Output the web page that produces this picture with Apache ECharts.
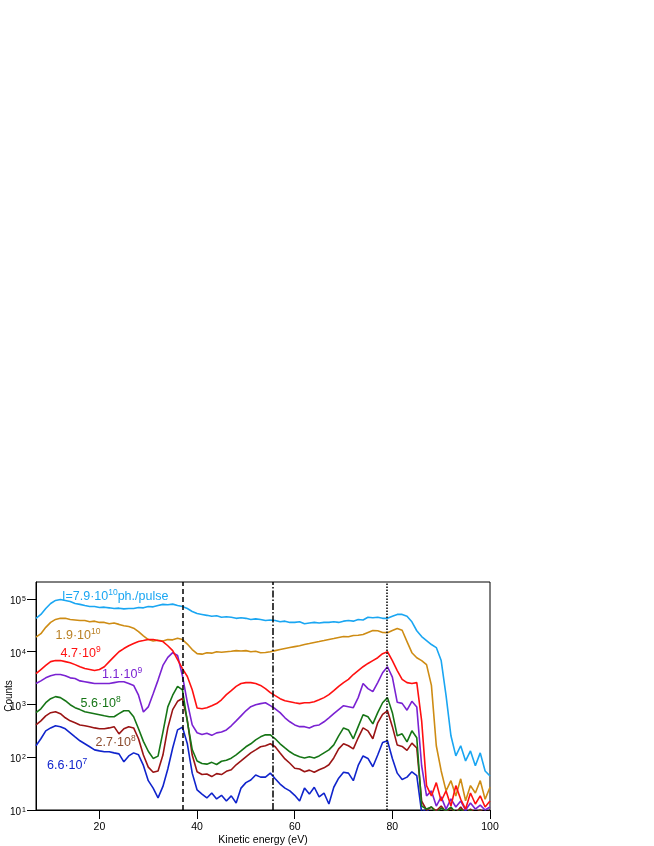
<!DOCTYPE html>
<html><head><meta charset="utf-8">
<script src="https://cdn.jsdelivr.net/npm/echarts@6/dist/echarts.min.js"></script>
<style>html,body{margin:0;padding:0;background:#fff}#c{width:654px;height:846px}</style>
</head><body><div id="c"></div>
<script>
// Kinetic energy (eV)
const energy = [7,8,9,10,11,12,13,14,15,16,17,18,19,20,21,22,23,24,25,26,27,28,29,30,31,32,33,34,35,36,37,38,39,40,41,42,43,44,45,46,47,48,49,50,51,52,53,54,55,56,57,58,59,60,61,62,63,64,65,66,67,68,69,70,71,72,73,74,75,76,77,78,79,80,81,82,83,84,85,86,87,88,89,90,91,92,93,94,95,96,97,98,99,100];

// Counts per intensity (ph./pulse)
const counts_7_9e10 = [43000,51000,66000,82000,94000,98000,94000,90000,82000,79000,
75000,72000,72000,69000,70000,68000,66000,67000,65000,66000,
66000,69000,68000,72000,71000,75000,79000,78000,80000,75000,
72000,66000,58000,53000,51000,49000,47000,48000,45000,46000,
45000,43000,44000,43000,41000,42000,41000,39000,40000,39000,
37000,38000,36000,36000,37000,34000,35000,36000,35000,36000,
36000,37000,36000,38000,39000,38000,41000,40000,45000,44000,
45000,43000,43000,47000,51000,51000,47000,37000,25000,19400,
16300,13700,12000,6800,1470,255,106,165,85,132,
69,121,55,44];

const counts_1_9e10 = [19000,22000,29000,36000,41000,43000,43000,41000,40000,39000,
39000,37000,38000,36000,36000,34000,35000,33000,31000,30000,
28000,24000,20000,17000,16000,16500,16000,17000,16800,18000,
17000,14000,11000,9200,9000,9600,9400,10000,9800,10000,
10200,10500,10300,10500,10000,10200,9600,9700,10000,10500,
11000,11500,12000,12500,13000,13700,14300,15000,15600,16300,
17100,17800,18600,19400,19200,20300,20500,21200,23200,25300,
25000,23200,23000,25300,27600,25500,15600,9600,7700,6800,
5700,2300,165,55,23,36,18.5,39,15,29,
21,36,16,27];

const counts_4_7e9 = [3850,4600,5500,6500,6800,6800,6500,6200,5700,5200,
4800,4600,4400,4600,5200,6500,8100,10000,11500,13000,
14300,15600,16300,17100,17100,16300,15600,13000,10500,7100,
4800,3400,1900,860,830,870,950,1040,1230,1540,
1830,2200,2500,2600,2600,2500,2300,2000,1680,1470,
1290,1180,1130,1080,1040,1080,1080,1130,1230,1350,
1540,1830,2200,2600,3000,3700,4400,5200,6000,6800,
7700,9200,10000,6800,4400,3000,2600,2500,2600,490,
29,18.5,33,14.8,23,11.9,29,16,10.4,21,
13,18.5,11.4,14.8];

const counts_1_1e9 = [2500,2800,3200,3500,3700,3700,3500,3200,3100,2800,
2700,2600,2500,2500,2500,2500,2600,2700,2700,2500,
2300,1500,720,900,1600,2900,5500,7800,9600,8500,
3500,1100,410,291,270,285,260,290,300,330,
395,490,610,760,910,990,1040,1080,950,830,
700,560,470,410,380,380,360,395,410,470,
560,670,800,950,910,870,1350,2500,2000,1750,
2600,4000,5200,3300,1100,1050,780,1150,900,69,
18.5,23,11.9,17.7,10.4,16.2,11.4,14.8,10,13.6,
10.4,12.4,10,11.4];

const counts_5_6e8 = [700,830,1080,1290,1410,1350,1180,990,870,800,
730,700,670,640,610,585,585,670,760,760,
585,346,200,130,95,105,300,900,1500,2200,
1900,480,140,85,76,74,80,73,84,88,
96,111,132,158,180,214,244,266,266,224,
180,151,127,111,102,97,102,97,106,121,
138,172,255,360,330,224,380,640,585,430,
700,1080,1350,700,255,278,196,317,234,11.9,
10.4,11.4,8.8,10.9,9.6,11.4,8.8,10.4,8.5,10,
8,9.6,7.7,8.8];

const counts_2_7e8 = [410,490,610,700,730,670,560,490,450,410,
395,380,360,346,346,360,380,278,346,380,
360,224,110,65,52,55,110,360,800,1150,
1300,500,110,53,47,48,43,49,47,54,
58,72,85,102,121,138,158,165,180,158,
121,93,77,62,60,53,57,52,58,63,
72,97,144,180,165,144,234,360,317,224,
450,650,760,380,170,160,135,185,150,14.8,
10,11.4,9.6,11.9,9.2,10.9,8.8,11.4,8.5,10.4,
8.8,10,8.5,9.6];

const counts_6_6e7 = [165,224,317,360,395,380,346,291,244,205,
180,158,138,132,127,127,121,116,82,106,
121,111,70,36,26,17,28,60,150,330,
370,180,50,24,20,16.9,21,16.2,19,14.8,
18.5,13.6,26,33,37,46,42,42,50,39,
31,26,23,19,14.8,26,20,27,17.7,21,
13,27,40,52,50,36,70,106,95,66,
110,190,205,95,50,38,42,53,45,9,
10.5,8,9.6,8.5,10,8,9,8.5,10,8,
9,8.5,9.2,8];

const xTicks = [20, 40, 60, 80, 100];
const yTicks = [10, 100, 1000, 10000, 100000];
const guideLines = [37.1, 55.5, 78.8];

const FONT = "'Liberation Sans', Arial, Helvetica, sans-serif";

const seriesDefs = [
  {name: '7.9e10', data: counts_7_9e10, color: '#1AA6F2'},
  {name: '1.9e10', data: counts_1_9e10, color: '#CE8C14'},
  {name: '6.6e7',  data: counts_6_6e7,  color: '#1024CC'},
  {name: '2.7e8',  data: counts_2_7e8,  color: '#9A1414'},
  {name: '5.6e8',  data: counts_5_6e8,  color: '#167516'},
  {name: '1.1e9',  data: counts_1_1e9,  color: '#7A22D2'},
  {name: '4.7e9',  data: counts_4_7e9,  color: '#FF1010'}
];

const series = seriesDefs.map(s => ({
  name: s.name, type: 'line', showSymbol: false, symbol: 'none', clip: true,
  data: energy.map((e, i) => [e, s.data[i]]),
  lineStyle: {color: s.color, width: 1.6}, itemStyle: {color: s.color},
  z: 2
}));

series.push({
  name: 'guides', type: 'line', data: [], z: 5,
  markLine: {
    silent: true, symbol: ['none', 'none'], label: {show: false}, animation: false,
    data: [
      {xAxis: guideLines[0], lineStyle: {color: '#000', width: 1.5, type: [5, 3]}},
      {xAxis: guideLines[1], lineStyle: {color: '#000', width: 1.5, type: [7, 2, 1.5, 2]}},
      {xAxis: guideLines[2], lineStyle: {color: '#000', width: 1.5, type: [1.5, 1.5]}}
    ]
  }
});

const labRich = {
  b: {fontSize: 12.5, lineHeight: 17, fontFamily: FONT},
  s: {fontSize: 8.5, verticalAlign: 'top', fontFamily: FONT}
};
function lab(left, top, text, color) {
  return {type: 'text', left: left, top: top, z: 10,
    style: {text: text, rich: labRich, fill: color, font: '12.5px ' + FONT}};
}

const chart = echarts.init(document.getElementById('c'), null, {renderer: 'canvas'});
chart.setOption({
  animation: false,
  backgroundColor: '#fff',
  grid: {left: 36, top: 582, width: 454, height: 228, containLabel: false, outerBoundsMode: 'none',
         show: true, borderColor: '#000', borderWidth: 1, backgroundColor: 'transparent'},
  xAxis: {
    type: 'value', min: 7, max: 100,
    name: 'Kinetic energy (eV)', nameLocation: 'middle', nameGap: 25, nameMoveOverlap: false,
    nameTextStyle: {fontSize: 10.5, color: '#000', fontFamily: FONT},
    axisLine: {lineStyle: {color: '#000', width: 1}},
    axisTick: {show: true, inside: false, length: 9, customValues: xTicks, lineStyle: {color: '#000', width: 1}},
    axisLabel: {customValues: xTicks, fontSize: 10.5, color: '#000', margin: 12, fontFamily: FONT},
    splitLine: {show: false}
  },
  yAxis: {
    type: 'log', logBase: 10, min: 10, max: 210000,
    name: 'Counts', nameLocation: 'middle', nameGap: 22, nameRotate: 90, nameMoveOverlap: false,
    nameTextStyle: {fontSize: 10, color: '#000', fontFamily: FONT},
    axisLine: {show: true, lineStyle: {color: '#000', width: 1}},
    axisTick: {show: true, inside: false, length: 9, customValues: yTicks, lineStyle: {color: '#000', width: 1}},
    axisLabel: {
      customValues: yTicks, margin: 10, color: '#000',
      formatter: function (v) { return '{b|10}{s|' + Math.round(Math.log10(v)) + '}'; },
      rich: {
        b: {fontSize: 10, lineHeight: 13, padding: [5, 0, 0, 0], fontFamily: FONT, color: '#000'},
        s: {fontSize: 7, verticalAlign: 'top', padding: [3, 0, 0, 1], fontFamily: FONT, color: '#000'}
      }
    },
    splitLine: {show: false}, minorTick: {show: false}
  },
  graphic: [
    lab(62, 588.5, '{b|I=7.9·10}{s|10}{b|ph./pulse}', '#1AA6F2'),
    lab(55.5, 627.5, '{b|1.9·10}{s|10}', '#B98024'),
    lab(60.5, 645.5, '{b|4.7·10}{s|9}', '#FF1010'),
    lab(102, 666.5, '{b|1.1·10}{s|9}', '#7A22D2'),
    lab(80.5, 695.5, '{b|5.6·10}{s|8}', '#167516'),
    lab(95.5, 734.5, '{b|2.7·10}{s|8}', '#8B4A2C'),
    lab(47, 757.5, '{b|6.6·10}{s|7}', '#1024CC')
  ],
  series: series
});
</script>
</body></html>
